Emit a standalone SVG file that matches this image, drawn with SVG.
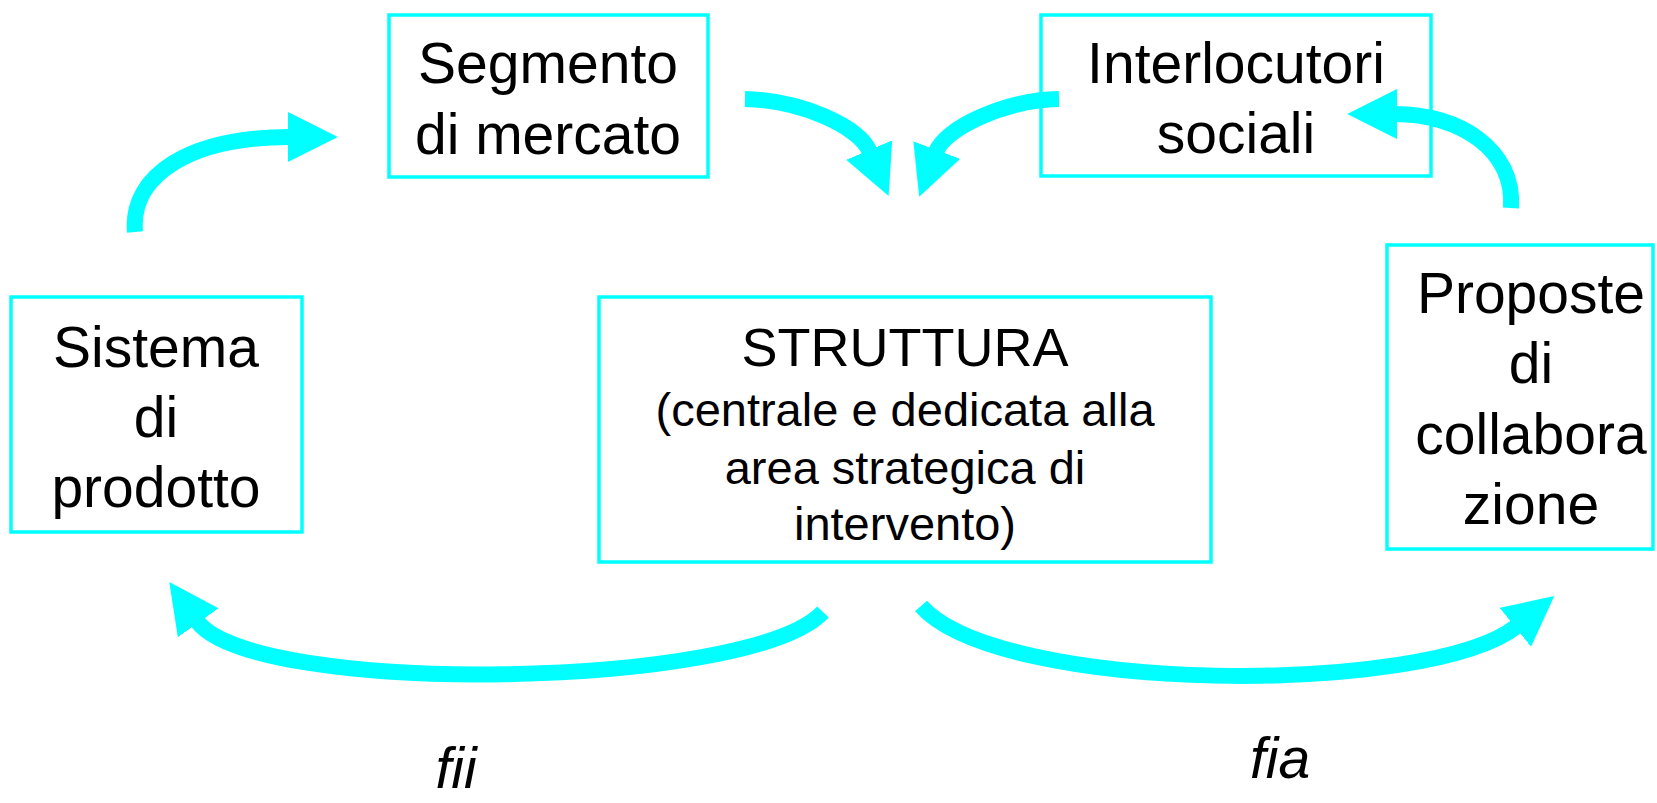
<svg xmlns="http://www.w3.org/2000/svg" width="1657" height="803" viewBox="0 0 1657 803">
<style>
.box{fill:#fff;stroke:#00FFFF;stroke-width:3.5}
.t{font-family:"Liberation Sans",Arial,sans-serif;font-size:57px;fill:#000;text-anchor:middle}
.s{font-size:47px}
.it{font-style:italic}
.c{fill:none;stroke:#00FFFF;stroke-width:16}
</style>
<defs>
<marker id="ah" markerUnits="userSpaceOnUse" markerWidth="50" markerHeight="50" viewBox="0 0 47 47" refX="2" refY="23.5" orient="auto">
<path d="M0,0 L47,23.5 L0,47 z" fill="#00FFFF"/>
</marker>
</defs>
<rect width="1657" height="803" fill="#fff"/>
<g id="segmento">
<rect class="box" x="389" y="15" width="319" height="162"/>
<text class="t" x="548" y="83">Segmento</text>
<text class="t" x="548" y="154">di mercato</text>
</g>
<g id="interlocutori">
<rect class="box" x="1041" y="15" width="390" height="161"/>
<text class="t" x="1236" y="83">Interlocutori</text>
<text class="t" x="1236" y="153">sociali</text>
</g>
<g id="sistema">
<rect class="box" x="11" y="297" width="291" height="235"/>
<text class="t" x="156" y="367">Sistema</text>
<text class="t" x="156" y="437">di</text>
<text class="t" x="156" y="507">prodotto</text>
</g>
<g id="struttura">
<rect class="box" x="599" y="297" width="612" height="265"/>
<text class="t" x="905" y="366" style="font-size:54px">STRUTTURA</text>
<text class="t s" x="905" y="426">(centrale e dedicata alla</text>
<text class="t s" x="905" y="484">area strategica di</text>
<text class="t s" x="905" y="540">intervento)</text>
</g>
<g id="proposte">
<rect class="box" x="1387" y="245" width="266" height="304"/>
<text class="t" x="1531" y="313">Proposte</text>
<text class="t" x="1531" y="383">di</text>
<text class="t" x="1531" y="454">collabora</text>
<text class="t" x="1531" y="524">zione</text>
</g>
<g id="connectors">
<path class="c" d="M135,232 C130,175 190,137 290,137" marker-end="url(#ah)"/>
<path class="c" d="M745,99 C800,100 859,126 870,152" marker-end="url(#ah)"/>
<path class="c" d="M1059,99 C1005,100 945,128 936,152" marker-end="url(#ah)"/>
<path class="c" d="M1511,208 C1515,150 1460,114 1395,114" marker-end="url(#ah)"/>
<path class="c" d="M823,612 C750,690 251,697 197,621" marker-end="url(#ah)"/>
<path class="c" d="M921,606 C1000,695 1430,696 1517,626" marker-end="url(#ah)"/>
</g>
<g id="labels">
<text class="t it" x="456" y="788">fii</text>
<text class="t it" x="1280" y="778">fia</text>
</g>
</svg>
